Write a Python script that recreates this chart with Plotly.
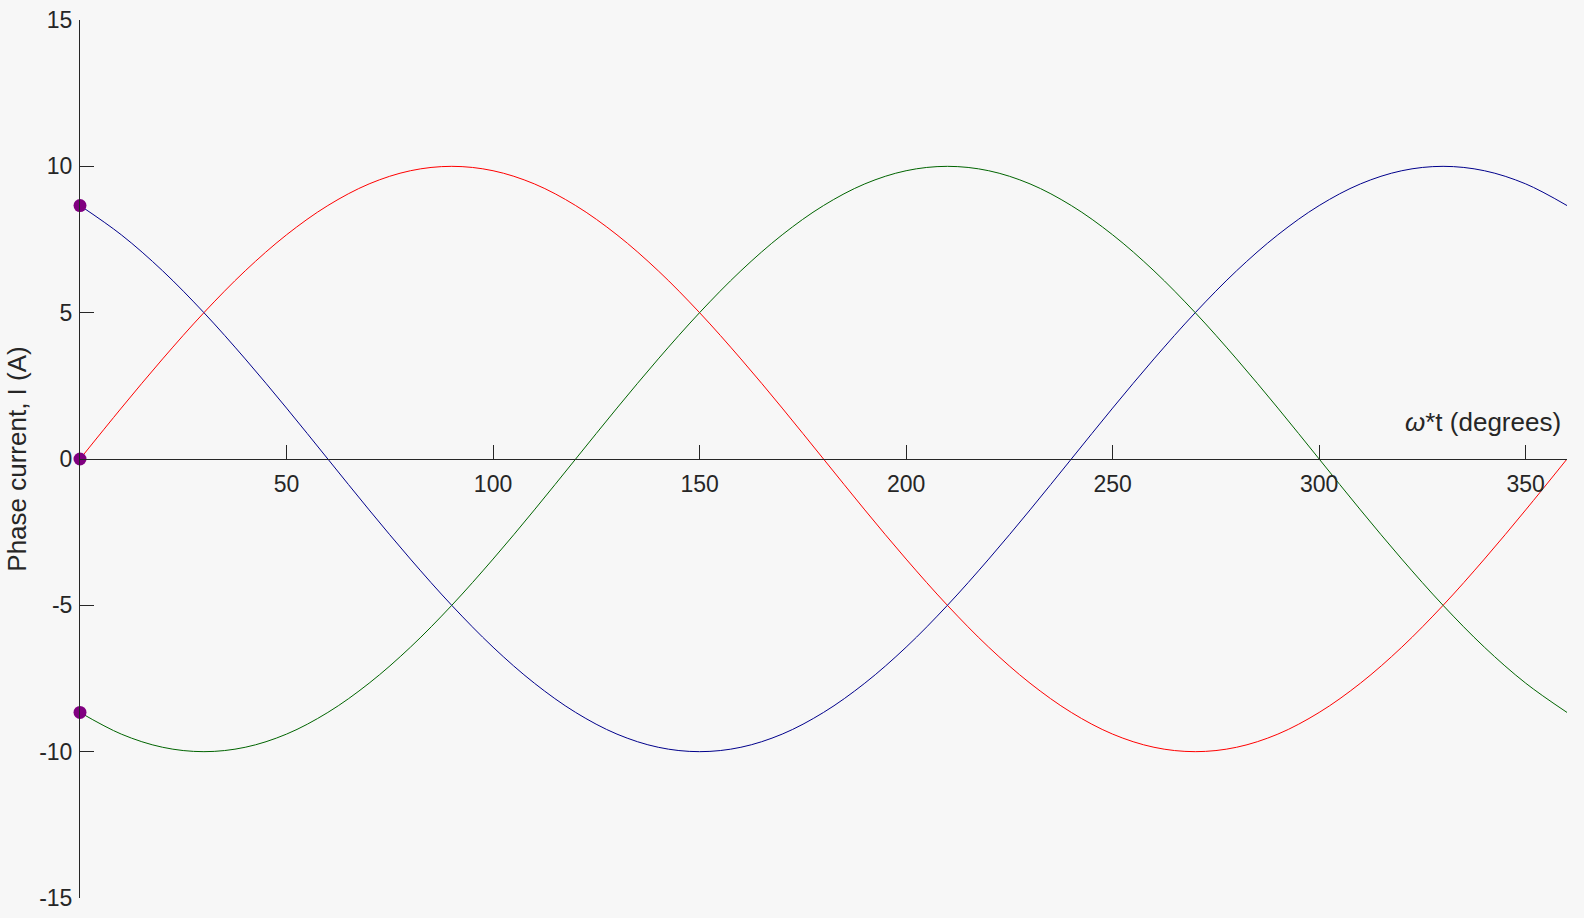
import plotly.graph_objects as go

# Angle samples (degrees)
angle_deg = [0, 10, 20, 30, 40, 50, 60, 70, 80, 90, 100, 110, 120, 130, 140, 150, 160, 170, 180,
             190, 200, 210, 220, 230, 240, 250, 260, 270, 280, 290, 300, 310, 320, 330, 340, 350, 360]

# Phase currents (A)
phase_red = [0, 1.74, 3.42, 5.00, 6.43, 7.66, 8.66, 9.40, 9.85, 10.00, 9.85, 9.40, 8.66, 7.66, 6.43,
             5.00, 3.42, 1.74, 0, -1.74, -3.42, -5.00, -6.43, -7.66, -8.66, -9.40, -9.85, -10.00,
             -9.85, -9.40, -8.66, -7.66, -6.43, -5.00, -3.42, -1.74, 0]
phase_blue = [8.66, 7.66, 6.43, 5.00, 3.42, 1.74, 0, -1.74, -3.42, -5.00, -6.43, -7.66, -8.66, -9.40,
              -9.85, -10.00, -9.85, -9.40, -8.66, -7.66, -6.43, -5.00, -3.42, -1.74, 0, 1.74, 3.42,
              5.00, 6.43, 7.66, 8.66, 9.40, 9.85, 10.00, 9.85, 9.40, 8.66]
phase_green = [-8.66, -9.40, -9.85, -10.00, -9.85, -9.40, -8.66, -7.66, -6.43, -5.00, -3.42, -1.74, 0,
               1.74, 3.42, 5.00, 6.43, 7.66, 8.66, 9.40, 9.85, 10.00, 9.85, 9.40, 8.66, 7.66, 6.43,
               5.00, 3.42, 1.74, 0, -1.74, -3.42, -5.00, -6.43, -7.66, -8.66]

# Start-point markers
marker_x = [0, 0, 0]
marker_y = [0, 8.66, -8.66]

x_tickvals = [50, 100, 150, 200, 250, 300, 350]
x_ticktext = ["50", "100", "150", "200", "250", "300", "350"]
y_tickvals = [-15, -10, -5, 0, 5, 10, 15]
y_ticktext = ["-15", "-10", "-5", "0", "5", "10", "15"]

text_color = "#262626"
font_family = "Liberation Sans, Arial, sans-serif"
tick_size = 23
label_size = 26

fig = go.Figure()
for ys, col in [(phase_red, "#ff0000"), (phase_blue, "#00008b"), (phase_green, "#006400")]:
    fig.add_trace(go.Scatter(x=angle_deg, y=ys, mode="lines",
                             line=dict(color=col, width=1, shape="spline"),
                             showlegend=False, hoverinfo="skip"))

fig.add_trace(go.Scatter(x=marker_x, y=marker_y, mode="markers",
                         marker=dict(color="#800080", size=13),
                         cliponaxis=False, showlegend=False))

fig.update_layout(
    width=1584, height=918,
    paper_bgcolor="#f7f7f7", plot_bgcolor="#f7f7f7",
    margin=dict(l=80, r=17, t=20, b=20, autoexpand=False),
    font=dict(family=font_family, size=tick_size, color=text_color),
    xaxis=dict(range=[0, 360], tickvals=x_tickvals, ticktext=x_ticktext, ticks="inside", ticklen=14,
               tickcolor=text_color, showline=True, linecolor=text_color, linewidth=1,
               showgrid=False, zeroline=False, anchor="free", position=0.5,
               ticklabelstandoff=4, automargin=False,
               tickfont=dict(size=tick_size, color=text_color)),
    yaxis=dict(range=[-15, 15], tickvals=y_tickvals, ticktext=y_ticktext, ticks="inside", ticklen=14,
               tickcolor=text_color, showline=True, linecolor=text_color, linewidth=1,
               showgrid=False, zeroline=False, ticklabelstandoff=2, automargin=False,
               title=dict(text="Phase current, I (A)", font=dict(size=label_size, color=text_color), standoff=5),
               tickfont=dict(size=tick_size, color=text_color)),
    annotations=[dict(x=360, y=0, xref="x", yref="y", xanchor="right", yanchor="bottom",
                      text="<i>ω</i>*t (degrees)", showarrow=False, xshift=-4, yshift=20,
                      font=dict(size=label_size, color=text_color))],
)

fig.write_html("out.html",
               config={"displayModeBar": False},
               post_script=("document.body.style.margin='0';"
                            "document.body.style.overflow='hidden';"
                            "document.documentElement.style.overflow='hidden';"
                            "document.body.style.background='#f7f7f7';"))
